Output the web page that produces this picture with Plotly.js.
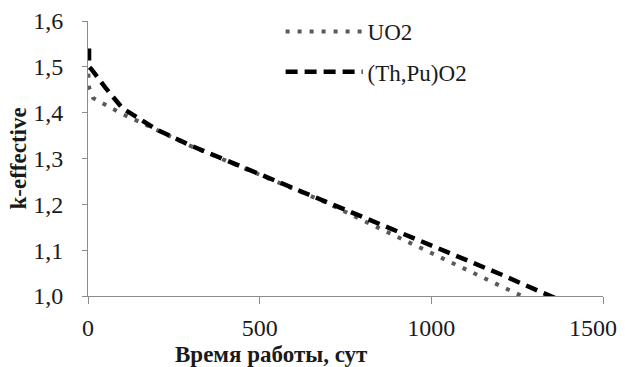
<!DOCTYPE html>
<html>
<head>
<meta charset="utf-8">
<script src="https://cdn.plot.ly/plotly-3.0.1.min.js"></script>
<style>html,body{margin:0;padding:0;background:#fff;}#chart{width:625px;height:367px;}</style>
</head>
<body>
<div id="chart"></div>
<script>
const uo2Days = [1, 3, 15, 50, 100, 150, 200, 300, 400, 500, 600, 700, 800, 900, 1000, 1100, 1200, 1300];
const uo2K    = [1.485, 1.455, 1.432, 1.417, 1.397, 1.380, 1.362, 1.327, 1.296, 1.265, 1.234, 1.202, 1.165, 1.129, 1.095, 1.058, 1.022, 0.987];
const thpuDays = [3, 3, 10, 50, 100, 150, 200, 300, 400, 500, 600, 700, 800, 900, 1000, 1100, 1200, 1300, 1400];
const thpuK    = [1.54, 1.50, 1.495, 1.455, 1.41, 1.387, 1.363, 1.328, 1.297, 1.266, 1.235, 1.204, 1.173, 1.142, 1.111, 1.080, 1.048, 1.015, 0.983];
const seriesNames = ['UO2', '(Th,Pu)O2'];
const xTickVals = [0, 500, 1000, 1500];
const xTickText = ['0', '500', '1000', ''];
const xLastTickVal = [1500];
const xLastTickText = ['1500'];
const yTickVals = [1.0, 1.1, 1.2, 1.3, 1.4, 1.5, 1.6];
const xTitle = 'Время работы, сут';
const yTitle = 'k-effective';

const font = 'Times New Roman';
const traces = [
  {x: uo2Days, y: uo2K, name: seriesNames[0], mode: 'lines', legend: 'legend',
   line: {color: '#595959', width: 4, dash: '4px,8px'}},
  {x: thpuDays, y: thpuK, name: seriesNames[1], mode: 'lines', legend: 'legend2',
   line: {color: '#000000', width: 4.5, dash: '12px,7px'}},
  {x: [], y: [], xaxis: 'x2', mode: 'lines', showlegend: false, hoverinfo: 'skip'}
];
const axisCommon = {
  showgrid: false, zeroline: false, showline: true, linecolor: '#8c8c8c', linewidth: 1,
  ticks: 'outside', tickcolor: '#8c8c8c', tickwidth: 1,
  tickfont: {family: font, size: 24, color: '#1a1a1a'}
};
const legendCommon = {
  xref: 'paper', yref: 'paper', xanchor: 'left', yanchor: 'middle',
  bgcolor: 'rgba(0,0,0,0)', itemwidth: 77,
  font: {family: font, size: 23, color: '#1a1a1a'}
};
const layout = {
  width: 625, height: 367,
  margin: {l: 87.6, r: 21.5, t: 21, b: 71, autoexpand: false},
  paper_bgcolor: '#ffffff', plot_bgcolor: '#ffffff',
  separators: ', ',
  showlegend: true,
  xaxis: Object.assign({}, axisCommon, {range: [0, 1500], tickvals: xTickVals, ticktext: xTickText, ticklen: 7, ticklabelstandoff: 3}),
  xaxis2: {overlaying: 'x', anchor: 'y', side: 'bottom', range: [0, 1500], tickvals: xLastTickVal, ticktext: xLastTickText,
           showgrid: false, zeroline: false, showline: false, ticks: 'outside', ticklen: 7, tickcolor: 'rgba(0,0,0,0)',
           ticklabelstandoff: 3, ticklabelshift: -10, ticklabeloverflow: 'allow',
           tickfont: {family: font, size: 24, color: '#1a1a1a'}},
  yaxis: Object.assign({}, axisCommon, {range: [1.0, 1.6], tickvals: yTickVals, tickformat: '.1f', ticklen: 5, ticklabelstandoff: 14}),
  legend: Object.assign({}, legendCommon, {x: 0.374, y: 0.962}),
  legend2: Object.assign({}, legendCommon, {x: 0.374, y: 0.815}),
  annotations: [
    {text: xTitle, xref: 'paper', yref: 'paper', x: 0.3555, y: -0.2145, xanchor: 'center', yanchor: 'middle',
     showarrow: false, font: {family: font, size: 23, color: '#1a1a1a', weight: 'bold'}},
    {text: yTitle, xref: 'paper', yref: 'paper', x: -0.1359, y: 0.5, xanchor: 'center', yanchor: 'middle',
     textangle: -90, showarrow: false, font: {family: font, size: 23, color: '#1a1a1a', weight: 'bold'}}
  ]
};
Plotly.newPlot('chart', traces, layout, {displayModeBar: false, staticPlot: true});
</script>
</body>
</html>
